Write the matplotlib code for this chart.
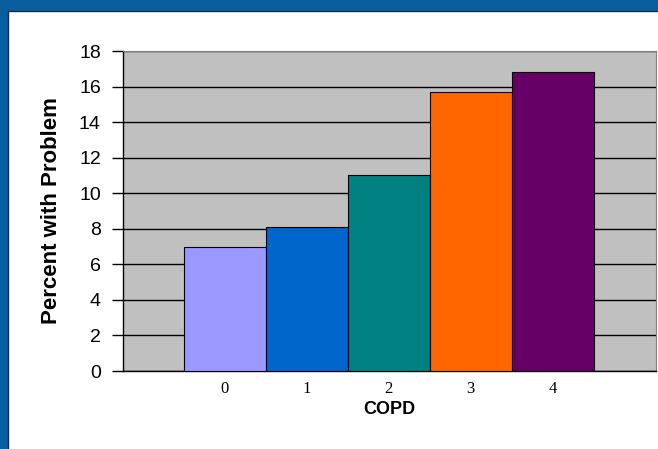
import matplotlib
matplotlib.use("Agg")
import matplotlib.pyplot as plt
from matplotlib.patches import Rectangle

categories = ["0", "1", "2", "3", "4"]
values = [7.0, 8.1, 11.0, 15.7, 16.8]
colors = ["#9999FF", "#0066CC", "#008080", "#FF6600", "#660066"]
yticks = [0, 2, 4, 6, 8, 10, 12, 14, 16, 18]

W, H = 658, 449
fig = plt.figure(figsize=(W / 100, H / 100), dpi=100)
fig.patch.set_facecolor("#0B5E9E")
fig.patches.append(Rectangle((8 / W, -0.01), 1.02 - 8 / W, (H - 11) / H + 0.01,
                             transform=fig.transFigure, facecolor="white",
                             edgecolor="#1a2a40", linewidth=1.0, zorder=-5))

ax = fig.add_axes([123 / W, 1 - 371 / H, (656 - 123) / W, (371 - 51) / H])
ax.set_facecolor("#C0C0C0")
x = list(range(len(categories)))
ax.bar(x, values, width=1.0, color=colors, edgecolor="black", linewidth=0.8, zorder=3)
ax.set_xlim(-1.24, 5.26)
ax.set_ylim(0, 18)
ax.set_yticks(yticks)
ax.set_yticklabels([str(v) for v in yticks], fontfamily="Liberation Sans", fontsize=14)
ax.set_xticks(x)
ax.set_xticklabels(categories, fontfamily="Liberation Serif", fontsize=12)
ax.tick_params(axis="x", length=0, pad=7)
ax.tick_params(axis="y", length=8, width=1, direction="out", pad=8)
ax.yaxis.grid(True, color="black", linewidth=1.0, zorder=1)
ax.set_axisbelow(True)
for s in ["top", "right"]:
    ax.spines[s].set_color("#808080")
    ax.spines[s].set_linewidth(0.8)
for s in ["left", "bottom"]:
    ax.spines[s].set_color("black")
    ax.spines[s].set_linewidth(1.0)

ax.set_xlabel("COPD", fontfamily="Liberation Sans", fontweight="bold", fontsize=13, labelpad=3)
ax.set_ylabel("Percent with Problem", fontfamily="Liberation Sans", fontweight="bold", fontsize=16, labelpad=12)

fig.savefig("out.png", dpi=100, facecolor=fig.get_facecolor())
